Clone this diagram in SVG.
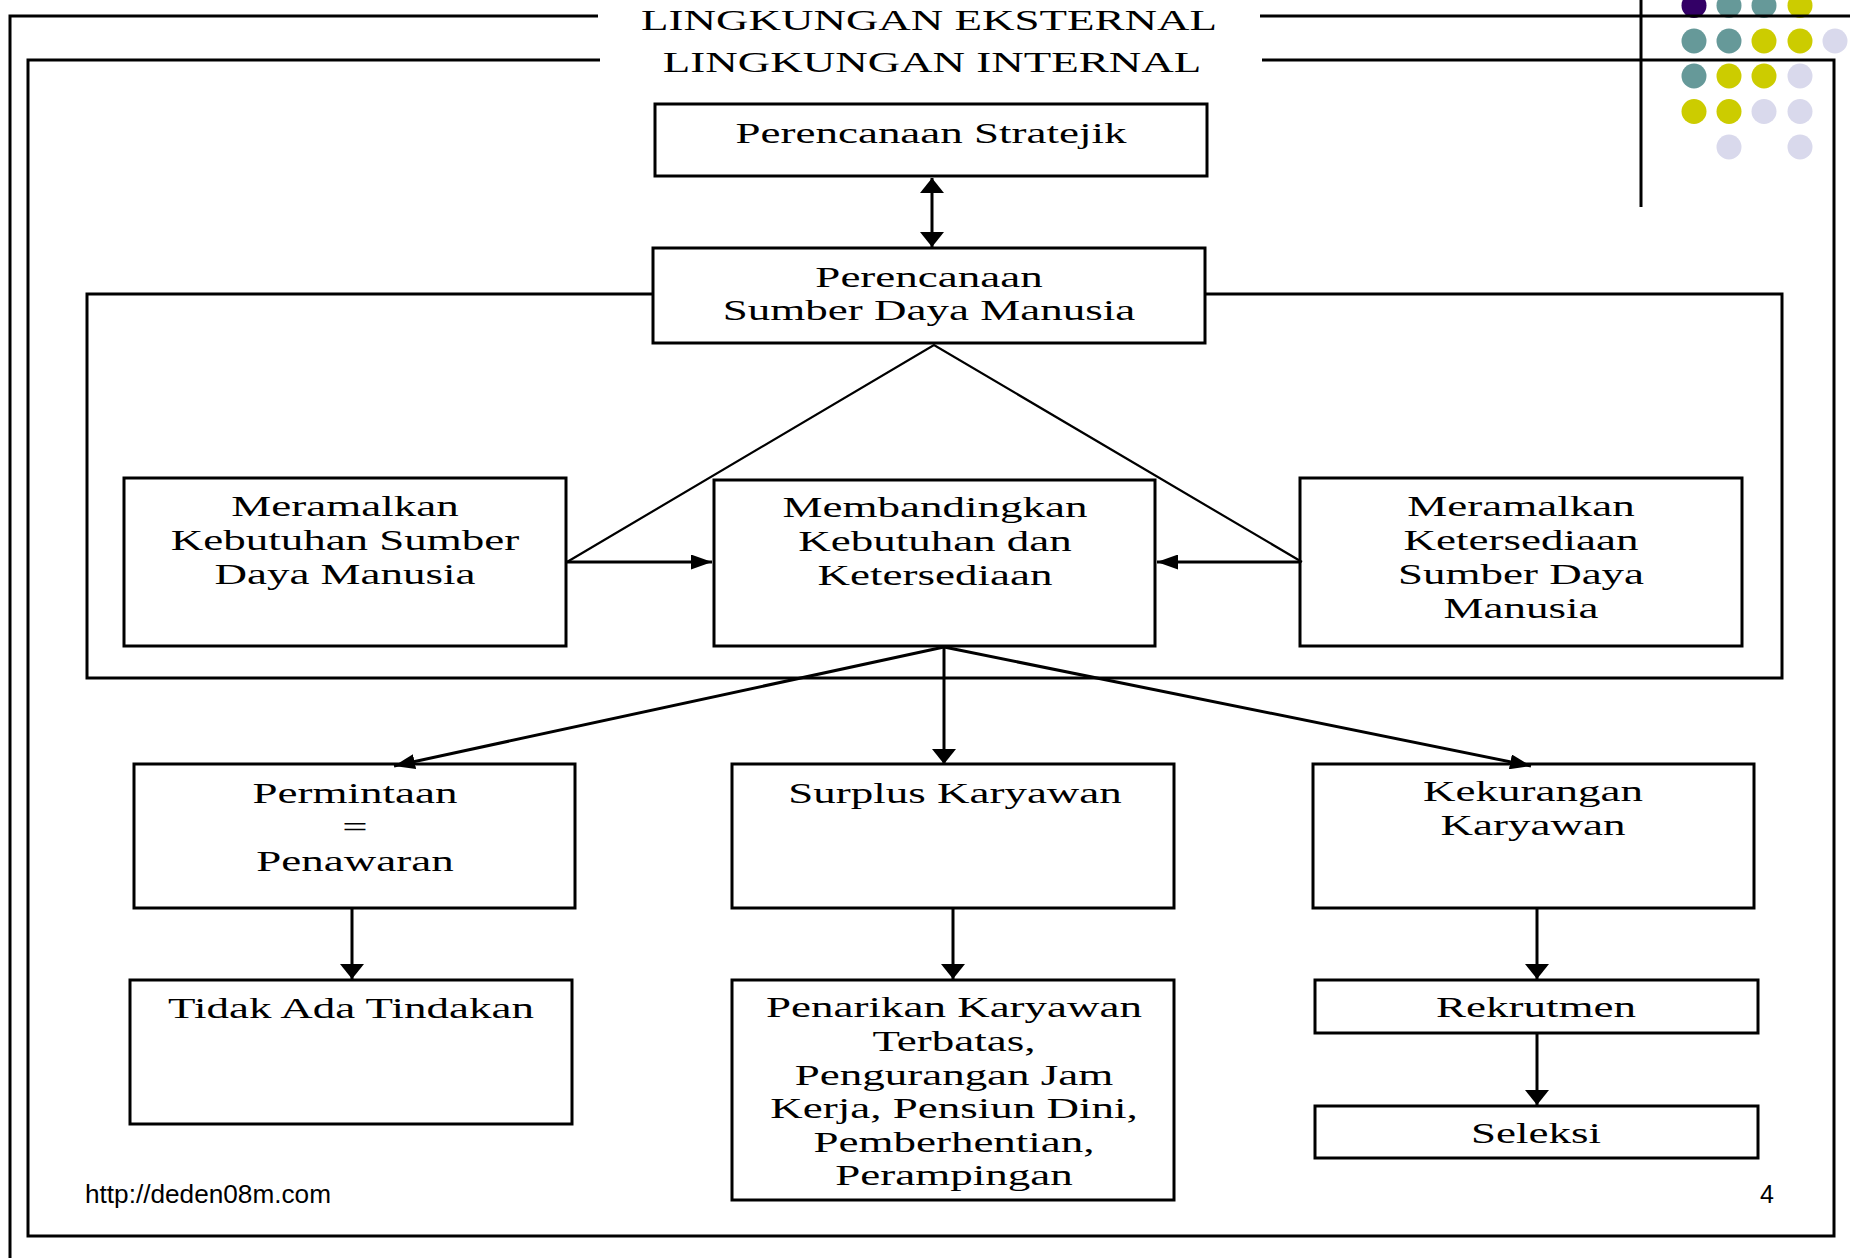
<svg xmlns="http://www.w3.org/2000/svg" width="1850" height="1258" viewBox="0 0 1850 1258">
<defs>
<style>
.t{font-family:"Liberation Serif","Times New Roman",serif;font-size:30px;text-anchor:middle;fill:#000}
.f{font-family:"Liberation Sans",Arial,sans-serif;font-size:25px;fill:#000}
.box{fill:#fff;stroke:#000;stroke-width:3}
.ln{fill:none;stroke:#000;stroke-width:3}
.thin{fill:none;stroke:#000;stroke-width:2.2}
.pu{fill:#330066}.te{fill:#669999}.ye{fill:#cccc00}.la{fill:#d9d9ec}
</style>
<marker id="av" viewBox="0 0 24 14" refX="12" refY="14" markerWidth="24" markerHeight="14" markerUnits="userSpaceOnUse" orient="auto-start-reverse">
<path d="M0,0 L12,14 L24,0 Z" fill="#000" transform="rotate(0)"/>
</marker>
<marker id="ah" viewBox="0 0 21 15" refX="21" refY="7.5" markerWidth="21" markerHeight="15" markerUnits="userSpaceOnUse" orient="auto">
<path d="M0,0 L21,7.5 L0,15 Z" fill="#000"/>
</marker>
<marker id="vv" viewBox="0 0 15 24" refX="15" refY="12" markerWidth="15" markerHeight="24" markerUnits="userSpaceOnUse" orient="auto-start-reverse">
<path d="M0,0 L15,12 L0,24 Z" fill="#000"/>
</marker>
</defs>

<g id="template">
<circle class="pu" cx="1694" cy="5.5" r="12.5"/>
<circle class="te" cx="1729" cy="5.5" r="12.5"/>
<circle class="te" cx="1764" cy="5.5" r="12.5"/>
<circle class="ye" cx="1800" cy="5.5" r="12.5"/>
<circle class="te" cx="1694" cy="41" r="12.5"/>
<circle class="te" cx="1729" cy="41" r="12.5"/>
<circle class="ye" cx="1764" cy="41" r="12.5"/>
<circle class="ye" cx="1800" cy="41" r="12.5"/>
<circle class="la" cx="1835" cy="41" r="12.5"/>
<circle class="te" cx="1694" cy="76" r="12.5"/>
<circle class="ye" cx="1729" cy="76" r="12.5"/>
<circle class="ye" cx="1764" cy="76" r="12.5"/>
<circle class="la" cx="1800" cy="76" r="12.5"/>
<circle class="ye" cx="1694" cy="111.5" r="12.5"/>
<circle class="ye" cx="1729" cy="111.5" r="12.5"/>
<circle class="la" cx="1764" cy="111.5" r="12.5"/>
<circle class="la" cx="1800" cy="111.5" r="12.5"/>
<circle class="la" cx="1729" cy="147" r="12.5"/>
<circle class="la" cx="1800" cy="147" r="12.5"/>
<line class="ln" x1="1641" y1="0" x2="1641" y2="207"/>
</g>

<g id="eksternal">
<path class="ln" d="M598,16 H10 V1258"/>
<line class="ln" x1="1260" y1="16" x2="1850" y2="16"/>
<text class="t" transform="translate(929 0) scale(1.5 1)" x="0" y="30">LINGKUNGAN EKSTERNAL</text>
</g>

<g id="internal">
<path class="ln" d="M600,60 H28 V1236 H1834 V60 H1262"/>
<text class="t" transform="translate(932 0) scale(1.5 1)" x="0" y="72">LINGKUNGAN INTERNAL</text>
</g>

<g id="frame-sdm">
<rect class="ln" x="87" y="294" width="1695" height="384"/>
</g>

<g id="n-stratejik">
<rect class="box" x="655" y="104" width="552" height="72"/>
<text class="t" transform="translate(931 0) scale(1.5 1)" x="0" y="143">Perencanaan Stratejik</text>
</g>

<g id="n-psdm">
<rect class="box" x="653" y="248" width="552" height="95"/>
<text class="t" transform="translate(929 0) scale(1.5 1)"><tspan x="0" y="287">Perencanaan</tspan><tspan x="0" y="320">Sumber Daya Manusia</tspan></text>
</g>

<g id="n-kebutuhan">
<rect class="box" x="124" y="478" width="442" height="168"/>
<text class="t" transform="translate(345 0) scale(1.5 1)"><tspan x="0" y="516">Meramalkan</tspan><tspan x="0" y="550">Kebutuhan Sumber</tspan><tspan x="0" y="584">Daya Manusia</tspan></text>
</g>

<g id="n-membandingkan">
<rect class="box" x="714" y="480" width="441" height="166"/>
<text class="t" transform="translate(935 0) scale(1.5 1)"><tspan x="0" y="517">Membandingkan</tspan><tspan x="0" y="551">Kebutuhan dan</tspan><tspan x="0" y="585">Ketersediaan</tspan></text>
</g>

<g id="n-ketersediaan">
<rect class="box" x="1300" y="478" width="442" height="168"/>
<text class="t" transform="translate(1521 0) scale(1.5 1)"><tspan x="0" y="516">Meramalkan</tspan><tspan x="0" y="550">Ketersediaan</tspan><tspan x="0" y="584">Sumber Daya</tspan><tspan x="0" y="618">Manusia</tspan></text>
</g>

<g id="n-permintaan">
<rect class="box" x="134" y="764" width="441" height="144"/>
<text class="t" transform="translate(355 0) scale(1.5 1)"><tspan x="0" y="803">Permintaan</tspan><tspan x="0" y="837">=</tspan><tspan x="0" y="871">Penawaran</tspan></text>
</g>

<g id="n-surplus">
<rect class="box" x="732" y="764" width="442" height="144"/>
<text class="t" transform="translate(955 0) scale(1.5 1)" x="0" y="803">Surplus Karyawan</text>
</g>

<g id="n-kekurangan">
<rect class="box" x="1313" y="764" width="441" height="144"/>
<text class="t" transform="translate(1533 0) scale(1.5 1)"><tspan x="0" y="801">Kekurangan</tspan><tspan x="0" y="835">Karyawan</tspan></text>
</g>

<g id="n-tidak">
<rect class="box" x="130" y="980" width="442" height="144"/>
<text class="t" transform="translate(351 0) scale(1.5 1)" x="0" y="1018">Tidak Ada Tindakan</text>
</g>

<g id="n-penarikan">
<rect class="box" x="732" y="980" width="442" height="220"/>
<text class="t" transform="translate(954 0) scale(1.5 1)"><tspan x="0" y="1017">Penarikan Karyawan</tspan><tspan x="0" y="1051">Terbatas,</tspan><tspan x="0" y="1085">Pengurangan Jam</tspan><tspan x="0" y="1118">Kerja, Pensiun Dini,</tspan><tspan x="0" y="1152">Pemberhentian,</tspan><tspan x="0" y="1185">Perampingan</tspan></text>
</g>

<g id="n-rekrutmen">
<rect class="box" x="1315" y="980" width="443" height="53"/>
<text class="t" transform="translate(1536 0) scale(1.5 1)" x="0" y="1017">Rekrutmen</text>
</g>

<g id="n-seleksi">
<rect class="box" x="1315" y="1106" width="443" height="52"/>
<text class="t" transform="translate(1536 0) scale(1.5 1)" x="0" y="1143">Seleksi</text>
</g>

<g id="connectors">
<line class="ln" x1="932" y1="178" x2="932" y2="247" marker-start="url(#vv)" marker-end="url(#vv)"/>
<polyline class="thin" points="567,562 934,345 1302,562"/>
<line class="ln" x1="566" y1="562" x2="712" y2="562" marker-end="url(#ah)"/>
<line class="ln" x1="1300" y1="562" x2="1157" y2="562" marker-end="url(#ah)"/>
<line class="ln" x1="944" y1="647" x2="394" y2="766" marker-end="url(#ah)"/>
<line class="ln" x1="944" y1="647" x2="944" y2="764" marker-end="url(#vv)"/>
<line class="ln" x1="944" y1="647" x2="1531" y2="766" marker-end="url(#ah)"/>
<line class="ln" x1="352" y1="908" x2="352" y2="979" marker-end="url(#vv)"/>
<line class="ln" x1="953" y1="908" x2="953" y2="979" marker-end="url(#vv)"/>
<line class="ln" x1="1537" y1="908" x2="1537" y2="979" marker-end="url(#vv)"/>
<line class="ln" x1="1537" y1="1033" x2="1537" y2="1105" marker-end="url(#vv)"/>
</g>

<g id="footer">
<text class="f" x="85" y="1203" textLength="246" lengthAdjust="spacingAndGlyphs">http://deden08m.com</text>
<text class="f" x="1760" y="1203">4</text>
</g>
</svg>
